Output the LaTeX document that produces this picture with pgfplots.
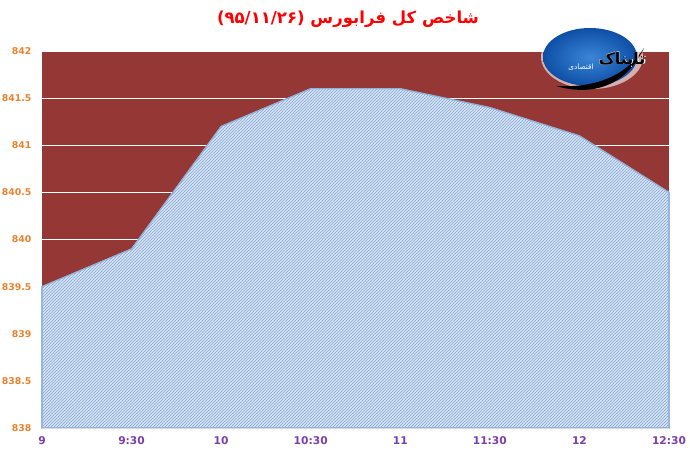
\documentclass[border=0pt]{standalone}
\usepackage{fontspec}
\usepackage{pgfplots}
\pgfplotsset{compat=1.18}
\usetikzlibrary{patterns.meta,shadings}
\setmainfont{DejaVu Sans}
\TeXXeTstate=1
\newfontfamily\arabicfont[Script=Arabic]{DejaVu Sans}
\definecolor{wallred}{HTML}{953735}
\definecolor{areablue}{HTML}{E4ECF6}
\definecolor{stripeblue}{HTML}{8FB0DA}
\definecolor{edgeblue}{HTML}{92B1DA}
\definecolor{ylab}{HTML}{E9822F}
\definecolor{xlab}{HTML}{7A3FA8}
\definecolor{logoin}{HTML}{3A86D8}
\definecolor{logoout}{HTML}{0E4FA6}

\begin{document}
\begin{tikzpicture}
% page size = 690x454 px, 1px = .75pt
\path[use as bounding box] (0,0) rectangle (517.5pt,340.5pt);
\begin{axis}[
    at={(31.5pt,19.5pt)},
    anchor=south west,
    scale only axis,
    width=470.25pt,
    height=282.75pt,
    xmin=0, xmax=7,
    ymin=838, ymax=842,
    ytick={838,838.5,...,842},
    xtick={0,...,7},
    xticklabels={9,9:30,10,10:30,11,11:30,12,12:30},
    /pgf/number format/assume math mode=true,
    /pgf/number format/fixed,
    /pgf/number format/precision=1,
    ymajorgrids=true,
    grid style={white,line width=0.6pt},
    axis background/.style={fill=wallred},
    axis line style={draw=none},
    major tick style={draw=none},
    xticklabel style={font=\bfseries\fontsize{8}{9}\selectfont,text=xlab,yshift=-3pt},
    yticklabel style={font=\bfseries\fontsize{7}{8}\selectfont,text=ylab,xshift=-4.5pt},
    clip=false,
]
\addplot[
    draw=edgeblue,
    line width=0.8pt,
    fill=areablue,
    postaction={pattern={Lines[angle=45,distance=1.591pt,line width=0.55pt]},pattern color=stripeblue},
    ] coordinates {
    (0,838)
    (0,839.5)
    (1,839.9)
    (2,841.2)
    (3,841.6)
    (4,841.6)
    (5,841.4)
    (6,841.1)
    (7,840.5)
    (7,838)
} \closedcycle;
\end{axis}
% pixel coordinates from here on
\begin{scope}[x=0.75pt,y=-0.75pt,shift={(0pt,340.5pt)}]
\draw[color=black!15,line width=0.8pt] (42,428.5) -- (669,428.5);
\node[text=red,font=\arabicfont\bfseries\fontsize{12.4}{14}\selectfont] at (348,19)
    {\beginR شاخص کل فرابورس (\beginL ۹۵/۱۱/۲۶\endL{})\endR};
% logo
\fill[white,opacity=0.6] (592,57) ellipse (51 and 32);
\shade[outer color=logoout,inner color=logoin] (590,57) ellipse (47 and 29);
\fill[black] (556,86) .. controls (590,96) and (625,88) .. (644,48)
    .. controls (625,78) and (592,88) .. (556,86);
\node[text=white,font=\arabicfont\bfseries\fontsize{12.5}{14}\selectfont] at (622.5,60)
    {\beginR تابناک\endR};
\node[text=black,font=\arabicfont\bfseries\fontsize{12}{14}\selectfont] at (622,60)
    {\beginR تابناک\endR};
\node[text=white,font=\arabicfont\fontsize{5.5}{6}\selectfont] at (581,67)
    {\beginR اقتصادی\endR};
\end{scope}
\end{tikzpicture}
\end{document}
